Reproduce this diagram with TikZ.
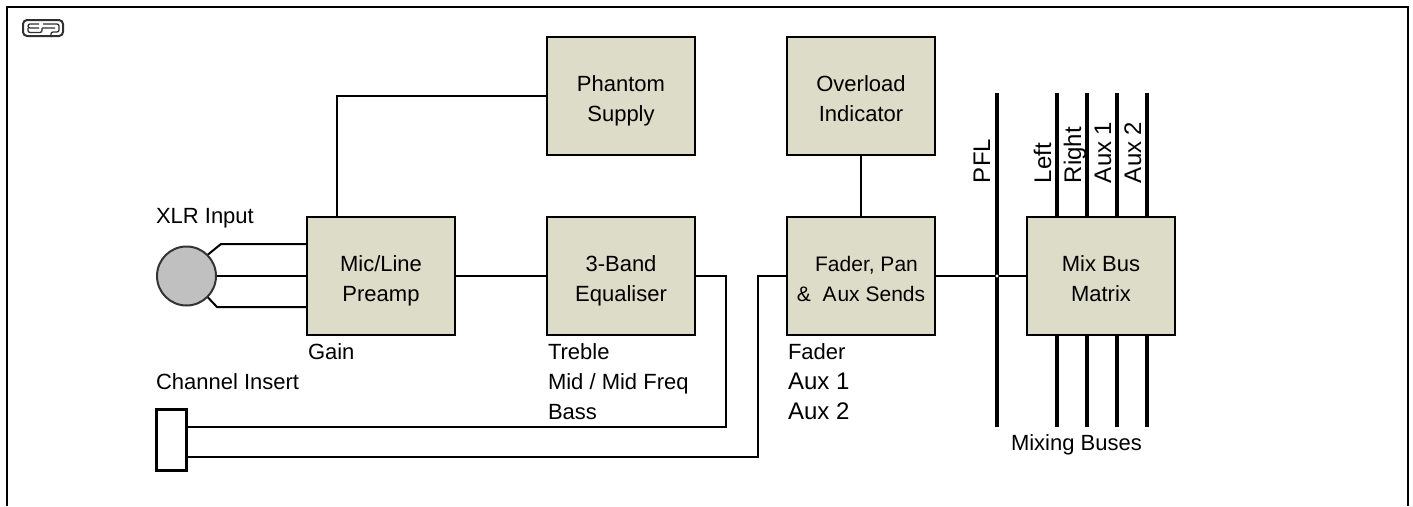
\documentclass[tikz,border=0pt]{standalone}
\usepackage{xcolor}
\definecolor{blockfill}{HTML}{DCDCC8}
\definecolor{jackfill}{HTML}{C0C0C0}
\definecolor{logoink}{HTML}{303030}
\usepackage{fontspec}
\setmainfont{Liberation Sans}
\usetikzlibrary{positioning,calc}
\newcommand{\twolines}[2]{\rule{0pt}{6pt}\\[-15pt]#1\\#2}

\begin{document}
\begin{tikzpicture}[x=1pt,y=-1pt,font=\fontsize{22}{30}\selectfont,line width=2pt,
    block/.style={draw,fill=blockfill,minimum width=148pt,minimum height=118pt,inner sep=0pt,align=center,text depth=0pt},
    lbl/.style={inner sep=0pt,anchor=base west},
    biglbl/.style={lbl,font=\fontsize{24}{30}\selectfont},
    bus/.style={line width=3.4pt}]
  \useasboundingbox (0,0) rectangle (1413,506);
  \draw[line width=2pt] (6.7,506) -- (6.7,6.5) -- (1407.7,6.5) -- (1407.7,506);
  % logo
  \draw[line width=2pt,rounded corners=4pt,logoink] (23,20) rectangle (63,36);
  \draw[line width=1.3pt,rounded corners=2pt,logoink] (39,28) -- (28,28) -- (28,24) -- (39,24)
    (28,28) -- (28,32.5) -- (42,32.5) -- (42,28);
  \draw[line width=1.3pt,rounded corners=2pt,logoink] (43,24) -- (59,24) -- (59,32) -- (51,32) -- (51,37)
    (42,28) -- (55,28);
  % blocks
  \node[block] (preamp) at (381,276) {\twolines{Mic/Line}{Preamp}};
  \node[block] (eq) at (621,276) {\twolines{3-Band}{Equaliser}};
  \node[block,font=\fontsize{21}{30}\selectfont] (fader) at (861,276) {\twolines{\hspace*{11pt}Fader, Pan}{\&\ \ A\hspace{1pt}ux Sends}};
  \node[block] (mix) at (1101,276) {\twolines{Mix Bus}{Matrix}};
  \node[block] (phantom) at (621,96) {\twolines{Phantom}{Supply}};
  \node[block] (overload) at (861,96) {\twolines{Overload}{Indicator}};
  \node[draw=black!80,fill=jackfill,circle,minimum size=59pt,inner sep=0pt] (xlr) at (186.5,276) {};
  \node[draw,fill=white,line width=3.4pt,minimum width=29.5pt,minimum height=61pt,inner sep=0pt] (insert) at (171.5,440) {};
  % wiring
  \draw (preamp.west) -- (xlr.east);
  \draw (preamp.west |- 0,244) -- (221,244) -- (xlr.45);
  \draw (preamp.west |- 0,307) -- (217,307) -- (xlr.-45);
  \draw (preamp.east) -- (eq.west);
  \draw (preamp.north -| 337,0) -- (337,96) -- (phantom.west);
  \draw (overload.south) -- (fader.north);
  \draw (eq.east) -- (725.5,276) -- (725.5,427) -- (insert.east |- 0,427);
  \draw (fader.west) -- (758,276) -- (758,457) -- (insert.east |- 0,457);
  \draw (fader.east) -- (mix.west);
  % buses
  \draw[bus] (997,93) -- (997,427);
  \fill[white] (997,276) circle (1.6);
  \foreach \x in {1057,1087,1117,1147} {
    \draw[bus] (\x,93) -- (\x,217);
    \draw[bus] (\x,335) -- (\x,427);
  }
  % vertical labels
  \foreach \x/\name in {990/PFL,1051/Left,1081/Right,1111/Aux 1,1141/Aux 2} {
    \node[biglbl,rotate=90] (lbl\x) at (\x,184) {\name};
  }
  % labels
  \node[lbl] (xlrtxt) at (155,223) {XLR Input};
  \node[lbl] (gain) at (307,359) {Gain};
  \node[lbl] (instxt) at (155,389) {Channel Insert};
  \node[lbl] (treble) at (547,359) {Treble};
  \node[lbl] (midtxt) at (547,389) {Mid / Mid Freq};
  \node[lbl] (bass) at (547,419) {Bass};
  \node[lbl] (fadertxt) at (787,359) {Fader};
  \node[biglbl] (aux1txt) at (787,389) {Aux 1};
  \node[biglbl] (aux2txt) at (787,419) {Aux 2};
  \node[lbl] (mixing) at (1010,450) {Mixing Buses};
\end{tikzpicture}
\end{document}
